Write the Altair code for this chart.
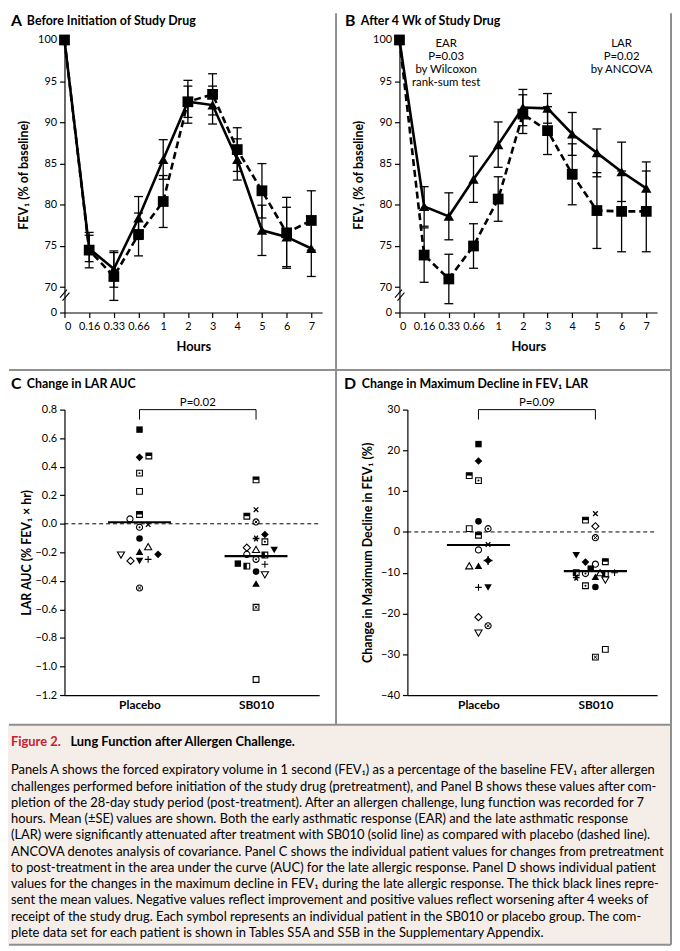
import json
import altair as alt
import pandas as pd

FONT = "Lato"
BLACK = "black"

# ---------------- data ----------------
hours = ["0", "0.16", "0.33", "0.66", "1", "2", "3", "4", "5", "6", "7"]

a_placebo = [100, 74.5, 71.3, 76.4, 80.4, 92.5, 93.4, 86.7, 81.7, 76.6, 78.1]
a_placebo_se = [0, 2.15, 2.9, 2.6, 3.15, 2.6, 2.5, 2.65, 3.3, 4.3, 3.6]
a_sb010 = [100, 74.7, 72.2, 78.4, 85.5, 92.5, 92.1, 85.5, 76.9, 76.1, 74.7]
a_sb010_se = [0, 1.6, 2.2, 2.6, 2.4, 1.9, 2.3, 2.5, 3.05, 3.6, 3.4]

b_placebo = [100, 73.9, 71.0, 75.0, 80.7, 91.0, 89.0, 83.7, 79.3, 79.2, 79.2]
b_placebo_se = [0, 3.3, 3.0, 2.7, 2.7, 2.35, 2.9, 3.7, 4.6, 4.9, 4.9]
b_sb010 = [100, 79.8, 78.6, 83.1, 87.3, 91.8, 91.7, 88.6, 86.3, 84.0, 82.0]
b_sb010_se = [0, 2.4, 2.85, 2.8, 2.75, 2.2, 1.8, 2.6, 2.9, 3.6, 3.2]

groups = ["Placebo", "SB010"]

# Panel C: change in LAR AUC
c_placebo = [0.66, 0.466, 0.475, 0.355, 0.227, 0.065, 0.034, -0.024, -0.005, -0.103,
             -0.16, -0.195, -0.219, -0.214, -0.26, -0.26, -0.249, -0.45]
c_placebo_jit = [0, 0, 0.08, 0, 0, 0, -0.082, 0, 0.074, 0,
                 0.074, 0, -0.159, 0.159, -0.077, 0, 0.074, 0]
c_placebo_sym = ["sq_f", "di_f", "sq_top", "sq_dot", "sq_o", "sq_top", "ci_o", "ci_dot", "x", "ci_f",
                 "tu_o", "tu_f", "td_o", "di_f", "di_o", "td_f", "plus", "ci_x"]
c_sb010 = [0.308, 0.099, 0.053, 0.013, -0.075, -0.103, -0.126, -0.167, -0.179, -0.184,
           -0.214, -0.219, -0.249, -0.279, -0.297, -0.284, -0.358, -0.335, -0.418, -0.585, -1.091]
c_sb010_jit = [0, 0, -0.079, 0, 0.076, 0, 0.076, -0.079, 0, 0.156,
               -0.079, 0.076, 0, -0.156, -0.079, 0.076, 0.076, 0, 0, 0, 0]
c_sb010_sym = ["sq_top", "x", "sq_top", "ci_x", "di_f", "ast", "sq_dot", "di_o", "tu_o", "td_f",
               "ci_o", "sq_left", "ci_dot", "sq_f", "sq_left", "plus", "td_o", "ci_f", "tu_f", "sq_x", "sq_o"]
c_means = [0.011, -0.226]

# Panel D: change in maximum decline in FEV1
d_placebo = [21.55, 17.4, 13.8, 12.6, 2.6, 0.8, 0.8, -0.8, -3.1, -4.4,
             -7.0, -8.3, -8.3, -13.6, -13.6, -20.9, -23.0, -24.8]
d_placebo_jit = [0, 0, -0.079, 0, 0, -0.079, 0.082, 0, 0.082, 0,
                 0.082, -0.079, 0, 0, 0.082, 0, 0.082, 0]
d_placebo_sym = ["sq_f", "di_f", "sq_top", "sq_dot", "ci_f", "sq_o", "ci_dot", "sq_top", "x", "ci_o",
                 "di_plus", "tu_o", "tu_f", "plus", "td_f", "di_o", "ci_x", "td_o"]
d_sb010 = [4.5, 2.9, 1.4, -1.4, -5.7, -7.4, -7.9, -7.3, -9.0, -10.0,
           -10.2, -11.0, -10.0, -10.2, -10.0, -11.2, -11.8, -13.2, -13.5, -28.8, -30.7]
d_sb010_jit = [0, -0.085, 0, 0, -0.164, -0.085, 0, 0.085, -0.04, -0.164,
               -0.085, 0, 0.04, 0.085, 0.164, -0.164, 0.085, -0.085, 0, 0.085, 0]
d_sb010_sym = ["x", "sq_top", "di_o", "ci_x", "td_f", "di_f", "ci_o", "sq_top", "sq_f", "sq_left",
               "ci_dot", "tu_f", "tu_o", "sq_left", "plus", "ast", "td_o", "sq_dot", "ci_f", "sq_o", "sq_x"]
d_means = [-3.2, -9.6]

caption_title_red = "Figure 2."
caption_title = "Lung Function after Allergen Challenge."
caption_lines = [
    "Panels A shows the forced expiratory volume in 1 second (FEV\u2081) as a percentage of the baseline FEV\u2081 after allergen",
    "challenges performed before initiation of the study drug (pretreatment), and Panel B shows these values after com-",
    "pletion of the 28-day study period (post-treatment). After an allergen challenge, lung function was recorded for 7",
    "hours. Mean (\u00b1SE) values are shown. Both the early asthmatic response (EAR) and the late asthmatic response",
    "(LAR) were significantly attenuated after treatment with SB010 (solid line) as compared with placebo (dashed line).",
    "ANCOVA denotes analysis of covariance. Panel C shows the individual patient values for changes from pretreatment",
    "to post-treatment in the area under the curve (AUC) for the late allergic response. Panel D shows individual patient",
    "values for the changes in the maximum decline in FEV\u2081 during the late allergic response. The thick black lines repre-",
    "sent the mean values. Negative values reflect improvement and positive values reflect worsening after 4 weeks of",
    "receipt of the study drug. Each symbol represents an individual patient in the SB010 or placebo group. The com-",
    "plete data set for each patient is shown in Tables S5A and S5B in the Supplementary Appendix.",
]

DUMMY = pd.DataFrame({"d": [0]})


def ptext(txt, x, y, size, weight="bold", color=BLACK, align="left", baseline="middle"):
    return alt.Chart(DUMMY).mark_text(
        text=txt, font=FONT, fontSize=size, fontWeight=weight, color=color,
        align=align, baseline=baseline,
    ).encode(x=alt.value(x), y=alt.value(y))


def prule(x, y, x2, y2, width=2.0, color="#8f8f8f"):
    return alt.Chart(DUMMY).mark_rule(color=color, strokeWidth=width).encode(
        x=alt.value(x), y=alt.value(y), x2=alt.value(x2), y2=alt.value(y2))


# ---------------- panels A / B ----------------
Y_BREAK = 66.93
Y_TOP = 100.36
LW, LH = 260, 278
hours_js = "[" + ",".join("'" + h + "'" for h in hours) + "]"


def line_panel(pl, pl_se, sb, sb_se, letter, title, letter_x, title_x, notes):
    rows = []
    for g, vals, ses in ((groups[0], pl, pl_se), (groups[1], sb, sb_se)):
        for i in range(len(hours)):
            rows.append({"idx": i, "grp": g, "v": vals[i], "lo": vals[i] - ses[i],
                         "hi": vals[i] + ses[i], "se": ses[i]})
    df = pd.DataFrame(rows)
    xs = alt.Scale(domain=[0, 10.44], nice=False, zero=False)
    ys = alt.Scale(domain=[Y_BREAK, Y_TOP], nice=False, zero=False)
    xax = alt.Axis(values=list(range(11)), labelExpr=hours_js + "[datum.value]", title="Hours",
                   titlePadding=9, labelPadding=3, titleFontSize=13)
    yax = alt.Axis(values=[Y_BREAK, 70, 75, 80, 85, 90, 95, 100],
                   labelExpr="datum.value < 68 ? '0' : datum.label",
                   title="FEV\u2081 (% of baseline)", titlePadding=7, labelPadding=3)

    def X(f):
        return alt.X(f, type="quantitative", scale=xs, axis=xax)

    def Y(f):
        return alt.Y(f, type="quantitative", scale=ys, axis=yax)

    base = alt.Chart(df)
    eb = base.transform_filter("datum.se > 0")
    layers = [
        eb.mark_rule(color=BLACK, strokeWidth=1.3).encode(x=X("idx"), y=Y("lo"), y2=alt.Y2("hi")),
        eb.mark_tick(orient="horizontal", size=9, thickness=1.3, color=BLACK, opacity=1).encode(
            x=X("idx"), y=Y("lo")),
        eb.mark_tick(orient="horizontal", size=9, thickness=1.3, color=BLACK, opacity=1).encode(
            x=X("idx"), y=Y("hi")),
        base.transform_filter("datum.grp == 'SB010'").mark_line(color=BLACK, strokeWidth=2.6).encode(
            x=X("idx"), y=Y("v")),
        base.transform_filter("datum.grp == 'Placebo'").mark_line(
            color=BLACK, strokeWidth=2.6, strokeDash=[7, 4]).encode(x=X("idx"), y=Y("v")),
        base.transform_filter("datum.grp == 'SB010'").mark_point(
            shape="triangle-up", filled=True, color=BLACK, size=110, opacity=1).encode(x=X("idx"), y=Y("v")),
        base.transform_filter("datum.grp == 'Placebo'").mark_point(
            shape="square", filled=True, color=BLACK, size=118, opacity=1).encode(x=X("idx"), y=Y("v")),
        # axis break marks
        prule(-4.5, 263, 2.5, 255, width=1.1, color=BLACK),
        prule(-2, 266, 5, 258, width=1.1, color=BLACK),
        ptext(letter, letter_x, -16, 16),
        ptext(title, title_x, -16, 12.5),
    ]
    for (ix, yv, txt) in notes:
        ndf = pd.DataFrame({"idx": [ix], "v": [yv], "t": [txt]})
        layers.append(alt.Chart(ndf).mark_text(
            font=FONT, fontSize=11.5, color=BLACK, align="center", baseline="top",
            lineBreak="\n", lineHeight=13).encode(x=X("idx"), y=Y("v"), text="t:N"))
    return alt.layer(*layers).properties(width=LW, height=LH)


# ---------------- panels C / D ----------------
SQ_TOP = "M-1,-1H1V0H-1Z"
SQ_LEFT = "M-1,-1H0V1H-1Z"
PLUS = "M-1,0H1M0,-1V1"
XL = "M-1,-1L1,1M-1,1L1,-1"
XIN = "M-0.55,-0.55L0.55,0.55M-0.55,0.55L0.55,-0.55"
AST = "M-1,0H1M-0.5,-0.87L0.5,0.87M-0.5,0.87L0.5,-0.87"

COMPONENTS = [
    ("sq_open", dict(shape="square", size=34, filled=False, fill="white", stroke=BLACK, strokeWidth=1.1)),
    ("ci_open", dict(shape="circle", size=38, filled=False, fill="white", stroke=BLACK, strokeWidth=1.1)),
    ("di_open", dict(shape="diamond", size=52, filled=False, fill="white", stroke=BLACK, strokeWidth=1.1)),
    ("tu_open", dict(shape="triangle-up", size=52, filled=False, fill="white", stroke=BLACK, strokeWidth=1.1)),
    ("td_open", dict(shape="triangle-down", size=52, filled=False, fill="white", stroke=BLACK, strokeWidth=1.1)),
    ("sq_fill", dict(shape="square", size=42, filled=True, fill=BLACK, strokeWidth=0)),
    ("ci_fill", dict(shape="circle", size=44, filled=True, fill=BLACK, strokeWidth=0)),
    ("di_fill", dict(shape="diamond", size=60, filled=True, fill=BLACK, strokeWidth=0)),
    ("tu_fill", dict(shape="triangle-up", size=58, filled=True, fill=BLACK, strokeWidth=0)),
    ("td_fill", dict(shape="triangle-down", size=58, filled=True, fill=BLACK, strokeWidth=0)),
    ("half_top", dict(shape=SQ_TOP, size=34, filled=True, fill=BLACK, strokeWidth=0)),
    ("half_left", dict(shape=SQ_LEFT, size=34, filled=True, fill=BLACK, strokeWidth=0)),
    ("dot", dict(shape="circle", size=4, filled=True, fill=BLACK, strokeWidth=0)),
    ("xin", dict(shape=XIN, size=34, filled=False, stroke=BLACK, strokeWidth=1.0)),
    ("plus", dict(shape=PLUS, size=46, filled=False, stroke=BLACK, strokeWidth=1.1)),
    ("plus_big", dict(shape=PLUS, size=80, filled=False, stroke=BLACK, strokeWidth=1.3)),
    ("xl", dict(shape=XL, size=22, filled=False, stroke=BLACK, strokeWidth=1.3)),
    ("ast", dict(shape=AST, size=46, filled=False, stroke=BLACK, strokeWidth=1.4)),
]
SYMBOLS = {
    "sq_f": ["sq_fill"], "sq_o": ["sq_open"], "sq_top": ["sq_open", "half_top"],
    "sq_left": ["sq_open", "half_left"], "sq_dot": ["sq_open", "dot"], "sq_x": ["sq_open", "xin"],
    "di_f": ["di_fill"], "di_o": ["di_open"], "ci_f": ["ci_fill"], "ci_o": ["ci_open"],
    "ci_dot": ["ci_open", "dot"], "ci_x": ["ci_open", "xin"],
    "tu_f": ["tu_fill"], "tu_o": ["tu_open"], "td_f": ["td_fill"], "td_o": ["td_open"],
    "plus": ["plus"], "x": ["xl"], "ast": ["ast"], "di_plus": ["di_fill", "plus_big"],
}

SH = 288


def scatter_panel(pv, pj, ps, sv, sj, ss, means, dom, ticks, fmt, ytitle, ytp, xdom, width, left,
                  letter, title, letter_x, title_x, ptxt, drop):
    rows = []
    for cat, vals, jit, syms in ((1, pv, pj, ps), (2, sv, sj, ss)):
        for v, j, s in zip(vals, jit, syms):
            rows.append({"x": cat + j, "y": v, "sym": s})
    df = pd.DataFrame(rows)
    if left:
        xs = alt.Scale(domain=xdom, nice=False, zero=False, range=[left, width])
    else:
        xs = alt.Scale(domain=xdom, nice=False, zero=False)
    ys = alt.Scale(domain=dom, nice=False, zero=False)
    xax = alt.Axis(values=[1, 2], labelExpr="datum.value == 1 ? 'Placebo' : 'SB010'", ticks=False,
                   tickSize=0, labelFontWeight="bold", labelFontSize=12, labelPadding=5, title=None)
    yax = alt.Axis(values=ticks, format=fmt, title=ytitle, titlePadding=ytp, labelPadding=3,
                   offset=-left)

    def X(f):
        return alt.X(f, type="quantitative", scale=xs, axis=xax)

    def Y(f):
        return alt.Y(f, type="quantitative", scale=ys, axis=yax)

    top = dom[1]
    zero_df = pd.DataFrame({"y": [0]})
    mean_df = pd.DataFrame({"x": [0.73, 1.73], "x2": [1.27, 2.27], "y": means})
    br_df = pd.DataFrame({"x": [1, 1, 2], "x2": [2, 1, 2], "y": [top, top, top], "y2": [top, drop, drop]})
    pt_df = pd.DataFrame({"x": [1.5], "y": [top], "t": [ptxt]})

    layers = [
        alt.Chart(zero_df).mark_rule(color=BLACK, strokeWidth=1, strokeDash=[4, 3]).encode(
            y=Y("y"), x=alt.value(left), x2=alt.value(width)),
        alt.Chart(br_df).mark_rule(color=BLACK, strokeWidth=1).encode(
            x=X("x"), x2=alt.X2("x2"), y=Y("y"), y2=alt.Y2("y2")),
        alt.Chart(pt_df).mark_text(font=FONT, fontSize=11.5, color=BLACK, baseline="bottom", dy=-2).encode(
            x=X("x"), y=Y("y"), text="t:N"),
    ]
    for name, kw in COMPONENTS:
        members = [s for s, comps in SYMBOLS.items() if name in comps]
        expr = "indexof(" + json.dumps(members) + ", datum.sym) >= 0"
        layers.append(alt.Chart(df).transform_filter(expr).mark_point(opacity=1, **kw).encode(
            x=X("x"), y=Y("y")))
    layers.append(alt.Chart(mean_df).mark_rule(color=BLACK, strokeWidth=2.2).encode(
        x=X("x"), x2=alt.X2("x2"), y=Y("y")))
    layers.append(ptext(letter, letter_x, -26, 16))
    layers.append(ptext(title, title_x, -26, 12.5))
    return alt.layer(*layers).properties(width=width, height=SH)


A = line_panel(a_placebo, a_placebo_se, a_sb010, a_sb010_se, "A", "Before Initiation of Study Drug",
               -54, -38, [])
B = line_panel(b_placebo, b_placebo_se, b_sb010, b_sb010_se, "B", "After 4 Wk of Study Drug",
               -55, -39, [(1.89, 100.2, "EAR\nP=0.03\nby Wilcoxon\nrank-sum test"),
                          (9.0, 100.2, "LAR\nP=0.02\nby ANCOVA")])

# C view: page x 65..322 ; D view: page x 403..663 with data range starting at 411
C = scatter_panel(c_placebo, c_placebo_jit, c_placebo_sym, c_sb010, c_sb010_jit, c_sb010_sym, c_means,
                  [-1.2, 0.8], [round(-1.2 + 0.2 * i, 1) for i in range(11)], ".1f",
                  "LAR AUC (% FEV\u2081 \u00d7 hr)", 2, [0.356, 2.542], 257, 0,
                  "C", "Change in LAR AUC", -54, -38, "P=0.02", 0.73)
D = scatter_panel(d_placebo, d_placebo_jit, d_placebo_sym, d_sb010, d_sb010_jit, d_sb010_sym, d_means,
                  [-40, 30], list(range(-40, 31, 10)), "d",
                  "Change in Maximum Decline in FEV\u2081 (%)", 6, [0.392, 2.528], 260, 8,
                  "D", "Change in Maximum Decline in FEV\u2081 LAR", -56, -38, "P=0.09", 27.56)

# caption + frame (origin of this view sits at page (65, 795))
OX, OY = 65, 795
cap_layers = [
    alt.Chart(DUMMY).mark_rect(fill="#f4ede8", opacity=1).encode(
        x=alt.value(8 - OX), x2=alt.value(677 - OX), y=alt.value(727 - OY), y2=alt.value(949 - OY)),
    # invisible anchor at the page's top-left
    alt.Chart(DUMMY).mark_rect(opacity=0).encode(
        x=alt.value(8 - OX), x2=alt.value(10 - OX), y=alt.value(8 - OY), y2=alt.value(10 - OY)),
    prule(9 - OX, 369 - OY, 677 - OX, 369 - OY),
    prule(339 - OX, 9 - OY, 339 - OX, 727 - OY),
    prule(9 - OX, 727 - OY, 677 - OX, 727 - OY),
    prule(677 - OX, 9 - OY, 677 - OX, 949 - OY),
    prule(9 - OX, 949 - OY, 677 - OX, 949 - OY),
    ptext(caption_title_red, 11 - OX, 744 - OY, 13, color="#c8202f"),
    ptext(caption_title, 71 - OX, 744 - OY, 13),
]
for i, line in enumerate(caption_lines):
    cap_layers.append(ptext(line, 11 - OX, 773 - OY + 16.4 * i, 13, weight="normal"))
CAP = alt.layer(*cap_layers).properties(width=10, height=10)

chart = alt.concat(A, B, C, D, CAP, columns=2, spacing=alt.RowColnumber(row=98, column=78),
                   bounds="flush").properties(
    padding=0, background="white"
).configure_view(stroke=None).configure_axis(
    domainColor=BLACK, domainWidth=1.2, tickColor=BLACK, tickWidth=1.2, tickSize=5,
    labelColor=BLACK, labelFont=FONT, labelFontSize=11, titleFont=FONT, titleFontSize=12.5,
    titleFontWeight="bold", titleColor=BLACK, grid=False,
)

chart.save("out.html", embed_options={"renderer": "svg", "actions": False})
